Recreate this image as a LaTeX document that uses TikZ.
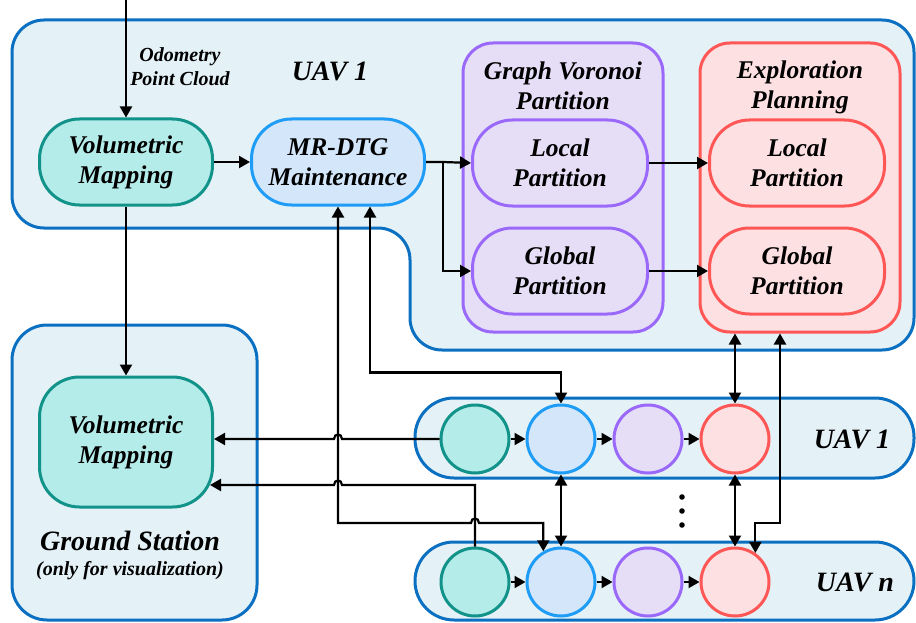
\documentclass[tikz,border=0pt]{standalone}
\usepackage{fontspec}
\setmainfont{Liberation Serif}
\usetikzlibrary{arrows.meta,calc}
\definecolor{cbord}{HTML}{0B70C2}
\definecolor{cfill}{HTML}{E4F1F6}
\definecolor{tbord}{HTML}{129389}
\definecolor{tfill}{HTML}{B4ECEA}
\definecolor{bbord}{HTML}{1E9CF6}
\definecolor{bfill}{HTML}{D3E6FA}
\definecolor{pbord}{HTML}{9B69FA}
\definecolor{pfill}{HTML}{E6DEF6}
\definecolor{rbord}{HTML}{FF5656}
\definecolor{rfill}{HTML}{FDE0E2}
\begin{document}
\begin{tikzpicture}[x=1pt,y=-1pt,
  txt/.style={font=\fontsize{25.5}{30}\selectfont\bfseries\itshape, align=center, inner sep=0pt},
  bigtxt/.style={font=\fontsize{28}{32}\selectfont\bfseries\itshape, align=center, inner sep=0pt},
  smalltxt/.style={font=\fontsize{20}{24}\selectfont\bfseries\itshape, align=center, inner sep=0pt},
  cont/.style={draw=cbord, fill=cfill, line width=3pt},
  box/.style={txt, rounded corners=40pt, minimum width=173pt, minimum height=86pt, line width=3pt},
  tealbox/.style={box, draw=tbord, fill=tfill},
  bluebox/.style={box, draw=bbord, fill=bfill},
  purpbox/.style={box, draw=pbord, fill=pfill, minimum width=175pt},
  redbox/.style={box, draw=rbord, fill=rfill, minimum width=175pt},
  grp/.style={rounded corners=30pt, minimum width=200pt, minimum height=289pt, line width=3pt, inner sep=0pt},
  circ/.style={circle, minimum size=68pt, line width=3pt, inner sep=0pt},
  arr/.style={-{Triangle[length=11pt,width=12pt]}, line width=2.2pt},
  arrb/.style={{Triangle[length=11pt,width=12pt]}-{Triangle[length=11pt,width=12pt]}, line width=2.2pt}
]
\useasboundingbox (0,0) rectangle (916,623);
% containers
\draw[cont, rounded corners=32pt] (400,20) -- (914,20) -- (914,350) -- (410,350) -- (410,228) -- (12,228) -- (12,20) -- cycle;
\draw[cont, rounded corners=35pt] (12,325) rectangle (257,620);
\draw[cont, rounded corners=39pt] (415,398) rectangle (914,478);
\draw[cont, rounded corners=39pt] (415,542) rectangle (914,620);
% labels
\node[bigtxt] (uavtop) at (330,71) {UAV 1};
\node[smalltxt] (odo) at (180,67) {Odometry\\Point Cloud};
% groups
\node[grp, draw=pbord, fill=pfill] (gvbox) at (563,187.5) {};
\node[txt] (gvt) at (563,86) {Graph Voronoi\\Partition};
\node[grp, draw=rbord, fill=rfill] (epbox) at (800,187.5) {};
\node[txt] (ept) at (800,87) {Exploration\\Planning};
% top boxes
\node[tealbox] (vm1) at (126,162) {Volumetric\\Mapping};
\node[bluebox] (mr) at (338,162) {MR-DTG\\Maintenance};
\node[purpbox] (lp) at (560,163) {Local\\Partition};
\node[purpbox] (gp) at (560,271) {Global\\Partition};
\node[redbox] (el) at (797,163) {Local\\Partition};
\node[redbox] (eg) at (797,271) {Global\\Partition};
% ground station
\node[tealbox, rounded corners=40pt, minimum height=130pt] (vm2) at (126,442) {Volumetric\\Mapping};
\node[bigtxt] (gs) at (130,541) {Ground Station};
\node[smalltxt] (gs2) at (130,571) {(only for visualization)};
% rows
\node[circ, draw=tbord, fill=tfill] (t1) at (475,439) {};
\node[circ, draw=bbord, fill=bfill] (b1) at (561,439) {};
\node[circ, draw=pbord, fill=pfill] (p1) at (648,439) {};
\node[circ, draw=rbord, fill=rfill] (r1) at (735,439) {};
\node[bigtxt] (u1) at (852,439) {UAV 1};
\node[circ, draw=tbord, fill=tfill] (tn) at (475,582) {};
\node[circ, draw=bbord, fill=bfill] (bn) at (561,582) {};
\node[circ, draw=pbord, fill=pfill] (pn) at (648,582) {};
\node[circ, draw=rbord, fill=rfill] (rn) at (735,582) {};
\node[bigtxt] (un) at (855,582) {UAV n};
\fill (682,497) circle (2.8pt) (682,511) circle (2.8pt) (682,525) circle (2.8pt);
% connectors
\coordinate (inp) at (126,0);
\draw[arr] (inp) -- (vm1.north);
\draw[arr] (vm1.east) -- (mr.west);
\coordinate (split) at (443,162);
\draw[arr] (mr.east) -- (split) -- (lp.west);
\draw[arr] (split) |- (gp.west);
\draw[arr] (lp.east) -- (el.west);
\draw[arr] (gp.east) -- (eg.west);
\draw[arr] (vm1.south) -- (vm2.north);
\draw[arrb] (r1.north) -- (r1.north |- epbox.south);
\coordinate (xr) at (780,523);
\draw[arrb] (rn.55) |- (xr) -- (xr |- epbox.south);
\draw[arrb] (b1.south) -- (bn.north);
\draw[arrb] (r1.south) -- (rn.north);
\draw[arr] (t1.east) -- (b1.west);
\draw[arr] (b1.east) -- (p1.west);
\draw[arr] (p1.east) -- (r1.west);
\draw[arr] (tn.east) -- (bn.west);
\draw[arr] (bn.east) -- (pn.west);
\draw[arr] (pn.east) -- (rn.west);
\draw[arrb] ($(mr.south)+(32,0)$) |- ($(b1.north)+(0,-31)$) -- (b1.north);
\draw[arrb] (mr.south) |- (471,523) .. controls (471,517) and (479,517) .. (479,523) -| (bn.120);
\coordinate (vm2in) at ($(vm2.east)+(-4,43)$);
\draw[arr] (t1.west) -- (342,439) .. controls (342,433) and (334,433) .. (334,439) -- (vm2.east |- t1.west);
\draw[arr] (tn.north) |- (342,485) .. controls (342,479) and (334,479) .. (334,485) -- (vm2in);
\end{tikzpicture}
\end{document}
